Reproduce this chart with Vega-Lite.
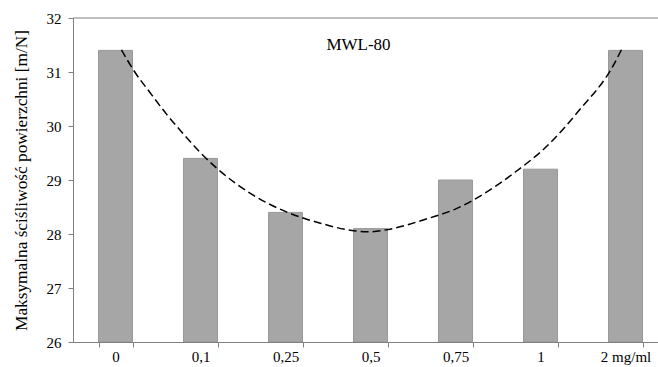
{
  "$schema": "https://vega.github.io/schema/vega-lite/v6.json",
  "autosize": "none",
  "padding": {"left": 73, "top": 18, "right": 0, "bottom": 25},
  "width": 585,
  "height": 324,
  "background": "white",
  "config": {
    "view": {"stroke": null},
    "font": "Liberation Serif"
  },
  "datasets": {
    "bars": [
      {"c": "0", "v": 31.4},
      {"c": "0,1", "v": 29.4},
      {"c": "0,25", "v": 28.4},
      {"c": "0,5", "v": 28.1},
      {"c": "0,75", "v": 29.0},
      {"c": "1", "v": 29.2},
      {"c": "2 mg/ml", "v": 31.4}
    ],
    "curve": [
      {"i": 1.07, "v": 31.41},
      {"i": 1.21, "v": 31.04},
      {"i": 1.41, "v": 30.61},
      {"i": 1.60, "v": 30.22},
      {"i": 1.80, "v": 29.85},
      {"i": 1.99, "v": 29.52},
      {"i": 2.19, "v": 29.22},
      {"i": 2.62, "v": 28.72},
      {"i": 3.01, "v": 28.41},
      {"i": 3.41, "v": 28.20},
      {"i": 3.76, "v": 28.07},
      {"i": 3.96, "v": 28.04},
      {"i": 4.23, "v": 28.09},
      {"i": 4.62, "v": 28.26},
      {"i": 5.01, "v": 28.47},
      {"i": 5.35, "v": 28.76},
      {"i": 5.68, "v": 29.12},
      {"i": 6.07, "v": 29.62},
      {"i": 6.46, "v": 30.30},
      {"i": 6.86, "v": 31.13},
      {"i": 6.97, "v": 31.47}
    ]
  },
  "layer": [
    {
      "layer": [
        {
          "data": {"name": "bars"},
          "mark": {"type": "bar", "fill": "#a6a6a6", "stroke": "#999999", "strokeWidth": 1},
          "encoding": {
            "x": {
              "field": "c", "type": "nominal", "sort": null,
              "scale": {"range": [0, 595], "paddingInner": 0.6, "paddingOuter": 0.3},
              "axis": {
                "title": null, "labelAngle": 0, "labelFont": "Liberation Serif", "labelFontSize": 15,
                "labelColor": "#000000", "domainColor": "#808080", "tickColor": "#808080",
                "tickSize": 5, "tickBand": "extent", "labelPadding": 2, "grid": false, "zindex": 1
              }
            },
            "y": {
              "field": "v", "type": "quantitative",
              "scale": {"domain": [26, 32], "zero": false, "nice": false},
              "axis": {
                "title": "Maksymalna ściśliwość  powierzchni [m/N]",
                "titleFont": "Liberation Serif", "titleFontSize": 17.3, "titleFontWeight": "normal",
                "titleColor": "#000000", "titlePadding": 16,
                "values": [26, 27, 28, 29, 30, 31, 32], "format": "d",
                "labelFont": "Liberation Serif", "labelFontSize": 15, "labelColor": "#000000",
                "domainColor": "#808080", "tickColor": "#808080", "tickSize": 5,
                "labelPadding": 7, "grid": false
              }
            },
            "y2": {"datum": 26}
          }
        },
        {
          "data": {"values": [{"t": "MWL-80"}]},
          "mark": {"type": "text", "font": "Liberation Serif", "fontSize": 17, "fontWeight": "normal", "fill": "#000000", "baseline": "alphabetic", "align": "center", "dx": -12},
          "encoding": {
            "text": {"field": "t"},
            "x": {"datum": "0,5"},
            "y": {"datum": 31.4}
          }
        }
      ]
    },
    {
      "data": {"name": "curve"},
      "mark": {"type": "line", "color": "#000000", "strokeWidth": 1.5, "strokeDash": [8, 4], "interpolate": "monotone"},
      "encoding": {
        "x": {"field": "i", "type": "quantitative", "scale": {"domain": [0.5, 7.5], "range": [0, 595], "nice": false, "zero": false}, "axis": null},
        "y": {"field": "v", "type": "quantitative"}
      }
    },
    {
      "data": {"values": [{}]},
      "mark": {"type": "rule", "color": "#808080", "strokeWidth": 1.2},
      "encoding": {"y": {"datum": 32}}
    }
  ],
  "resolve": {"scale": {"x": "independent"}}
}
